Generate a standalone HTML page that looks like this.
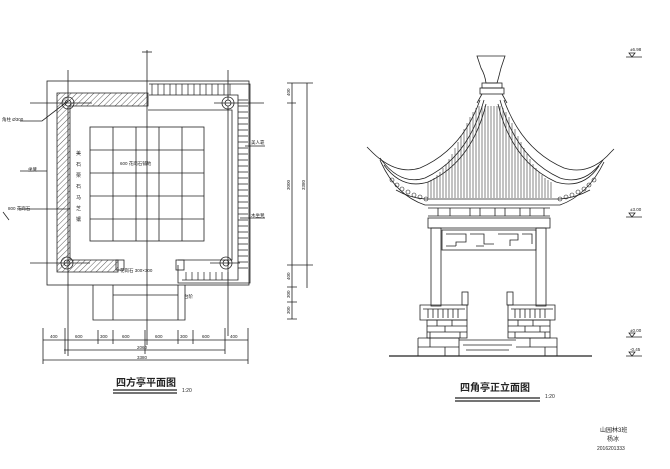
<!DOCTYPE html>
<html><head><meta charset="utf-8"><style>
html,body{margin:0;padding:0;background:#fff;}
svg{display:block;font-family:"Liberation Sans","Noto Sans CJK SC",sans-serif;}
</style></head><body>
<svg width="670" height="469" viewBox="0 0 670 469" xmlns="http://www.w3.org/2000/svg">
<defs>
<pattern id="h" width="4" height="4" patternUnits="userSpaceOnUse" patternTransform="rotate(45)">
<line x1="0" y1="0" x2="0" y2="4" stroke="#333" stroke-width="0.8"/></pattern>
</defs>
<rect width="670" height="469" fill="#fff"/>
<g stroke="#222" fill="none" stroke-width="0.8">
<!-- PLAN -->
<rect x="47" y="81" width="202" height="204"/>
<line x1="147" y1="50" x2="147" y2="345"/>
<line x1="142" y1="52" x2="152" y2="52"/>
<path d="M57 93 H148 V106 H70 V260 H118 V272 H57 Z" fill="url(#h)"/>
<path d="M149 84 H250 V283 H178 V265" />
<path d="M149 95 H238 V280 H182"/>
<g stroke-width="0.7">
<path d="M152 84v11M158 84v11M164 84v11M170 84v11M176 84v11M182 84v11M188 84v11M194 84v11M200 84v11M206 84v11M212 84v11M218 84v11M224 84v11M230 84v11"/>
<path d="M238 100h10M238 106h10M238 112h10M238 118h10M238 124h10M238 130h10M238 136h10M238 142h10M238 148h10M238 154h10M238 160h10M238 166h10M238 172h10M238 178h10M238 184h10M238 190h10M238 196h10M238 202h10M238 208h10M238 214h10M238 220h10M238 226h10M238 232h10M238 238h10M238 244h10M238 250h10M238 256h10M238 262h10M238 268h10"/>
<path d="M186 272v8M192 272v8M198 272v8M204 272v8M210 272v8M216 272v8M222 272v8M228 272v8"/>
</g>
<path d="M148 110 H232 V260 H178"/>
<rect x="116" y="260" width="8" height="10"/><rect x="176" y="260" width="8" height="10"/>
<rect x="90" y="127" width="114" height="114"/>
<path d="M113 127v114M136 127v114M159 127v114M182 127v114M90 150h114M90 173h114M90 196h114M90 219h114"/>
<g><circle cx="68" cy="103" r="6"/><circle cx="68" cy="103" r="3"/>
<circle cx="228" cy="103" r="6"/><circle cx="228" cy="103" r="3"/>
<circle cx="67" cy="263" r="6"/><circle cx="67" cy="263" r="3"/>
<circle cx="226" cy="263" r="6"/><circle cx="226" cy="263" r="3"/></g>
<path d="M68 70v30M68 106v250M228 70v30M228 106v230M30 103h62M214 103h50M30 263h60M210 263h30"/>
<path d="M20 121h22l26-20M20 171h27M18 209h52M245 146h20M240 218h25"/>
<path d="M93 285v35h92V285M113 285v35M113 295h65M178 285v35"/>
<path d="M292 83v236M307 83v205M287 83h26M287 103h9M287 265h26M287 287h10M287 302h10M287 319h10"/>
<path d="M43 340h205M64 350h161M43 360h205"/>
<path d="M43 328v36M65 328v26M98 330v14M113 330v14M145 330v24M178 330v14M193 330v14M225 328v26M248 328v36"/>
<path d="M113 390h64M113 393h64" stroke-width="1.3"/>
<!-- ELEVATION -->
<path d="M389 356H592" stroke-width="1.3"/>
<path d="M477 56 H505 L501 68 Q498 80 497 83 H486 Q485 75 481 68 Z"/>
<rect x="482" y="83" width="20" height="5"/><rect x="480" y="88" width="24" height="6"/>
<path d="M482 94 L477 103 M502 94 L507 103"/>
<path d="M480 100 Q462 150 420 168 Q395 176 370 150"/>
<path d="M484 100 Q468 158 425 178 Q400 186 380 158"/>
<path d="M486 104 Q472 162 428 182 Q402 190 384 165"/>
<path d="M504 100 Q522 150 564 168 Q590 176 611 152"/>
<path d="M500 100 Q516 158 560 178 Q585 186 603 160"/>
<path d="M498 104 Q512 162 556 182 Q583 190 599 166"/>
<path d="M370 150 l-3 -3 M611 152 l3 -3"/>
<path d="M380 160 Q395 195 425 205 H560 Q588 195 604 162"/>
<path d="M396 190 Q410 198 425 199 H560 Q575 198 590 190"/>
<g stroke-width="0.55">
<path d="M428 182v16M431 180v18M434 178v20M437 175v23M440 172v26M443 168v30M446 164v34M449 159v39M452 154v44M455 148v50M458 142v56M461 136v62M464 129v69M467 123v75M470 117v81M473 112v86M476 108v90M479 106v92M482 106v92M485 106v92M488 106v92M491 106v92M494 106v92M497 106v92M500 106v92M503 108v90M506 112v86M509 117v81M512 123v75M515 129v69M518 136v62M521 142v56M524 148v50M527 154v44M530 159v39M533 164v34M536 168v30M539 172v26M542 175v23M545 178v20M548 180v18M551 182v16"/>
</g>
<g stroke-width="0.6"><circle cx="392" cy="180" r="2"/><circle cx="397" cy="185" r="2"/><circle cx="402" cy="189" r="2"/><circle cx="408" cy="192" r="2"/><circle cx="414" cy="195" r="2"/><circle cx="420" cy="197" r="2"/><circle cx="426" cy="199" r="2"/>
<circle cx="560" cy="199" r="2"/><circle cx="566" cy="197" r="2"/><circle cx="572" cy="195" r="2"/><circle cx="578" cy="192" r="2"/><circle cx="584" cy="189" r="2"/><circle cx="589" cy="185" r="2"/><circle cx="594" cy="180" r="2"/></g>
<path d="M428 208h122M428 216h122"/>
<path d="M438 208v8M450 208v8M470 208v8M480 208v8M495 208v8M505 208v8M520 208v8M530 208v8M544 208v8"/>
<rect x="428" y="218" width="122" height="10"/>
<rect x="431" y="228" width="10" height="78"/><rect x="536" y="228" width="10" height="78"/>
<rect x="442" y="230" width="94" height="20"/>
<path d="M446 234h20v8h-10v4M470 234h14v10h10M498 234h20v6h-8v6M522 234h10v10M446 246h10M476 246h8"/>
<path d="M420 305h47v15h-47z M423 309h42M508 305h47v15h-47z M511 309h42"/>
<path d="M428 309v9M433 309v9M438 309v9M443 309v9M448 309v9M453 309v9M458 309v9M515 309v9M520 309v9M525 309v9M530 309v9M535 309v9M540 309v9M545 309v9"/>
<rect x="462" y="292" width="6" height="13"/><rect x="507" y="292" width="6" height="13"/>
<rect x="427" y="320" width="40" height="18"/><rect x="508" y="320" width="42" height="18"/>
<path d="M427 326h40M427 332h40M508 326h42M508 332h42M437 320v6M452 320v6M445 326v6M430 332v6M460 332v6M518 320v6M533 320v6M525 326v6M540 326v6M515 332v6M545 332v6"/>
<path d="M418 338h41v18M418 338v18M418 347h41M430 338v9M445 347v9"/>
<path d="M516 338h41v18M516 347h41M530 338v9M545 347v9"/>
<path d="M459 340h57M463 345h49M466 350h43"/>
<path d="M626 57h16M626 217h16M626 337h16M626 356h16"/>
<path d="M629 53l3 4 3-4zM629 213l3 4 3-4zM629 333l3 4 3-4zM629 352l3 4 3-4z"/>
<path d="M455 398h85M455 401h85" stroke-width="1.3"/>
<path d="M3 212l6 8" />
</g>
<g fill="#222" font-size="4.5">
<text x="2" y="121">角柱 Ø300</text>
<text x="28" y="171">坐凳</text>
<text x="8" y="210">800 花岗石</text>
<text x="251" y="144">美人靠</text>
<text x="251" y="217">木坐凳</text>
<text x="120" y="165">600 花岗石铺地</text>
<text x="120" y="272">花岗石 300×300</text>
<text x="184" y="298">台阶</text>
<text x="50" y="338">400</text><text x="75" y="338">600</text><text x="100" y="338">300</text><text x="122" y="338">600</text><text x="155" y="338">600</text><text x="180" y="338">300</text><text x="202" y="338">600</text><text x="230" y="338">400</text>
<text x="137" y="349">2060</text><text x="137" y="359">3380</text>
<text x="630" y="51">±6.98</text><text x="630" y="211">±3.00</text><text x="630" y="332">±0.00</text><text x="630" y="351">-0.45</text>
<g transform="translate(290,96) rotate(-90)"><text>400</text></g>
<g transform="translate(290,190) rotate(-90)"><text>3000</text></g>
<g transform="translate(305,190) rotate(-90)"><text>3380</text></g>
<g transform="translate(290,280) rotate(-90)"><text>400</text></g>
<g transform="translate(290,298) rotate(-90)"><text>300</text></g>
<g transform="translate(290,314) rotate(-90)"><text>300</text></g>
<text font-size="5"><tspan x="76" y="155">美</tspan><tspan x="76" y="166">石</tspan><tspan x="76" y="177">栗</tspan><tspan x="76" y="188">石</tspan><tspan x="76" y="199">马</tspan><tspan x="76" y="210">芝</tspan><tspan x="76" y="221">镶</tspan></text>
<text x="116" y="386" font-size="10" font-weight="bold">四方亭平面图</text>
<text x="182" y="392" font-size="5">1:20</text>
<text x="460" y="391" font-size="10" font-weight="bold">四角亭正立面图</text>
<text x="545" y="398" font-size="5">1:20</text>
<text x="600" y="432" font-size="6">山园林3班</text>
<text x="607" y="441" font-size="6">杨冰</text>
<text x="597" y="450" font-size="5">2016201333</text>
</g>
</svg>
</body></html>
